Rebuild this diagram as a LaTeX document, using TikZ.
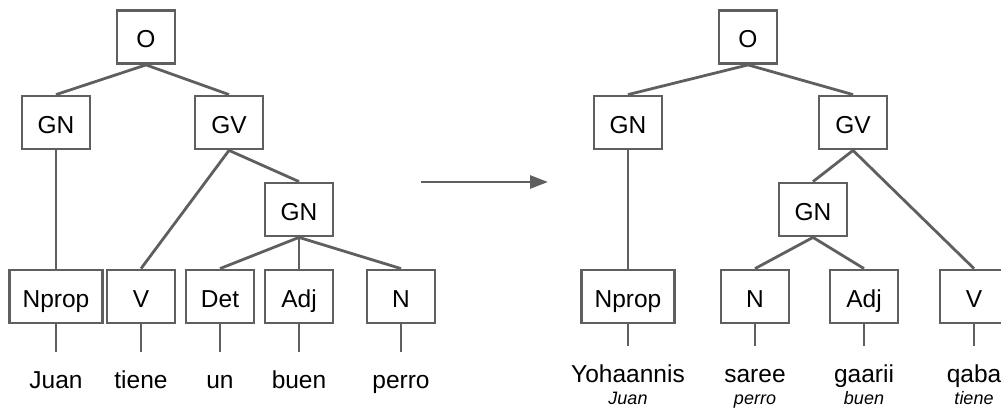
\documentclass[tikz,border=0pt]{standalone}
\usepackage{fontspec}
\setmainfont{Liberation Sans}
\usetikzlibrary{arrows.meta}
\definecolor{linegray}{HTML}{5F5F5F}
\begin{document}
\begin{tikzpicture}[x=1pt,y=-1pt,
  box/.style={draw=linegray, line width=2.8pt, minimum width=68pt, minimum height=53pt, inner sep=0pt, text height=22pt, text depth=1pt, font=\fontsize{24.5}{28}\selectfont},
  wide/.style={box, minimum width=93pt},
  narrow/.style={box, minimum width=58pt},
  edge/.style={draw=linegray, line width=2.8pt},
  word/.style={anchor=base, inner sep=0pt, font=\fontsize{24.5}{28}\selectfont},
  gloss/.style={anchor=base, inner sep=0pt, font=\fontsize{18}{20}\selectfont\itshape}]
\useasboundingbox (0,0) rectangle (1001,407);
\clip (0,0) rectangle (1001,407);
% left tree
\node[narrow] (LO) at (146,37) {O};
\node[box] (LGN) at (56,122.5) {GN};
\node[box] (LGV) at (229,122.5) {GV};
\node[box] (LGNb) at (299,209.5) {GN};
\node[wide] (LNprop) at (56,296.5) {Nprop};
\node[box] (LV) at (141,296.5) {V};
\node[box] (LDet) at (220,296.5) {Det};
\node[box] (LAdj) at (299,296.5) {Adj};
\node[box] (LN) at (401,296.5) {N};
\foreach \n/\x in {Nprop/56, V/141, Det/220, Adj/299, N/401}
  \coordinate (sL\n) at (\x,352);
\node[word] (wJuan) at (56,388) {Juan};
\node[word] (wtiene) at (141,388) {tiene};
\node[word] (wun) at (220,388) {un};
\node[word] (wbuen) at (299,388) {buen};
\node[word] (wperro) at (401,388) {perro};
\draw[edge] (LO.south) -- (LGN.north);
\draw[edge] (LO.south) -- (LGV.north);
\draw[edge] (LGN.south) -- (LNprop.north);
\draw[edge] (LGV.south) -- (LV.north);
\draw[edge] (LGV.south) -- (LGNb.north);
\draw[edge] (LGNb.south) -- (LDet.north);
\draw[edge] (LGNb.south) -- (LAdj.north);
\draw[edge] (LGNb.south) -- (LN.north);
\foreach \n in {Nprop, V, Det, Adj, N}
  \draw[edge] (L\n.south) -- (sL\n);
% arrow
\coordinate (a1) at (421,182);
\coordinate (a2) at (548,182);
\draw[edge,-{Triangle[length=18pt,width=13pt]}] (a1) -- (a2);
% right tree
\node[narrow] (RO) at (748,37) {O};
\node[box] (RGN) at (628,122.5) {GN};
\node[box] (RGV) at (853,122.5) {GV};
\node[box] (RGNb) at (813,209.5) {GN};
\node[wide] (RNprop) at (628,296.5) {Nprop};
\node[box] (RN) at (755,296.5) {N};
\node[box] (RAdj) at (864,296.5) {Adj};
\node[box] (RV) at (974,296.5) {V};
\foreach \n/\x in {Nprop/628, N/755, Adj/864, V/974}
  \coordinate (sR\n) at (\x,346);
\node[word] (wYoh) at (628,382) {Yohaannis};
\node[word] (wsaree) at (755,382) {saree};
\node[word] (wgaarii) at (864,382) {gaarii};
\node[word] (wqaba) at (974,382) {qaba};
\node[gloss] (gJuan) at (628,404) {Juan};
\node[gloss] (gperro) at (755,404) {perro};
\node[gloss] (gbuen) at (864,404) {buen};
\node[gloss] (gtiene) at (974,404) {tiene};
\draw[edge] (RO.south) -- (RGN.north);
\draw[edge] (RO.south) -- (RGV.north);
\draw[edge] (RGN.south) -- (RNprop.north);
\draw[edge] (RGV.south) -- (RGNb.north);
\draw[edge] (RGV.south) -- (RV.north);
\draw[edge] (RGNb.south) -- (RN.north);
\draw[edge] (RGNb.south) -- (RAdj.north);
\foreach \n in {Nprop, N, Adj, V}
  \draw[edge] (R\n.south) -- (sR\n);
\end{tikzpicture}
\end{document}
